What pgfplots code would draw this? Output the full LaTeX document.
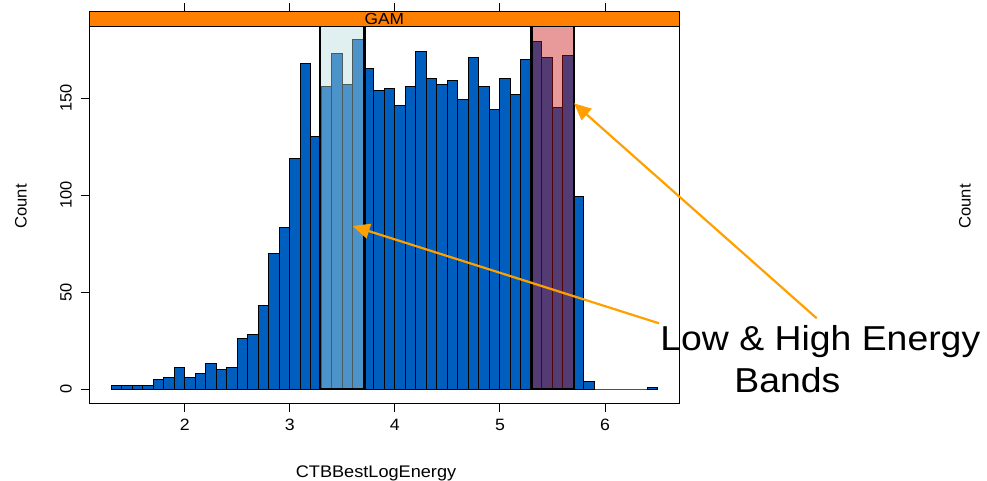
\documentclass[border=0pt]{standalone}
\usepackage{fontspec}
\setmainfont{Liberation Sans}[FakeStretch=1.08]
\newfontfamily\rotfont{Liberation Sans}
\usepackage{pgfplots}
\pgfplotsset{compat=1.18}
\usetikzlibrary{arrows.meta}
\definecolor{barblue}{RGB}{0,95,190}
\definecolor{stripor}{RGB}{255,128,0}
\definecolor{arrowor}{RGB}{255,160,0}
\definecolor{lowband}{RGB}{182,219,219}
\definecolor{highband}{RGB}{200,12,12}
\begin{document}
\begin{tikzpicture}
\useasboundingbox (0,0) rectangle (493.5pt,-240.5pt);
\begin{axis}[
  at={(44.65pt,-201.65pt)}, anchor=south west,
  scale only axis, width=295pt, height=188.5pt,
  xmin=1.092, xmax=6.707, ymin=-7.37, ymax=186.96,
  xtick={2,3,4,5,6}, ytick={0,50,100,150},
  xtick pos=lower, ytick pos=left,
  tick align=outside, major tick length=4.3pt,
  tick style={black, line width=0.5pt},
  axis line style={black, line width=0.5pt},
  /pgf/number format/assume math mode=true,
  xticklabel style={font=\fontsize{8.2}{9}\selectfont, inner sep=0pt},
  xticklabel shift=3.3pt,
  yticklabel style={rotate=90, anchor=south, inner sep=0pt, font=\rotfont\fontsize{8.2}{9}\selectfont},
  yticklabel shift=4.2pt,
  xlabel={CTBBestLogEnergy},
  xlabel style={at={(axis description cs:0.486,0)}, anchor=north, inner sep=0pt, yshift=-30.85pt, font=\fontsize{8.4}{10}\selectfont},
  ylabel={Count},
  ylabel style={at={(axis description cs:-0.1158,0.522)}, anchor=center, inner sep=0pt, font=\rotfont\fontsize{8.3}{10}\selectfont},
  clip=false,
]
\addplot[ybar interval, fill=barblue, draw=black, line width=0.5pt] table[row sep=\\] {
x y\\
1.3 2\\ 1.4 2\\ 1.5 2\\ 1.6 2\\ 1.7 5\\ 1.8 6\\ 1.9 11\\ 2.0 6\\ 2.1 8\\ 2.2 13\\
2.3 10\\ 2.4 11\\ 2.5 26\\ 2.6 28\\ 2.7 43\\ 2.8 70\\ 2.9 83\\ 3.0 119\\ 3.1 168\\ 3.2 130\\
3.3 156\\ 3.4 173\\ 3.5 157\\ 3.6 180\\ 3.7 165\\ 3.8 154\\ 3.9 155\\ 4.0 146\\ 4.1 156\\ 4.2 174\\
4.3 160\\ 4.4 157\\ 4.5 159\\ 4.6 149\\ 4.7 171\\ 4.8 156\\ 4.9 144\\ 5.0 160\\ 5.1 152\\ 5.2 170\\
5.3 179\\ 5.4 171\\ 5.5 145\\ 5.6 172\\ 5.7 99\\ 5.8 4\\ 5.9 0\\ 6.0 0\\ 6.1 0\\ 6.2 0\\
6.3 0\\ 6.4 1\\ 6.5 1\\
};
% energy bands
\fill[lowband, fill opacity=0.42] (axis cs:3.289,0) rectangle (axis cs:3.711,187.3);
\draw[black, line width=1.2pt] (axis cs:3.289,0) rectangle (axis cs:3.711,187.3);
\fill[highband, fill opacity=0.42] (axis cs:5.3,0) rectangle (axis cs:5.705,187.3);
\draw[black, line width=1.2pt] (axis cs:5.3,0) rectangle (axis cs:5.705,187.3);
% strip
\draw[fill=stripor, line width=0.5pt] (axis description cs:0,1) rectangle ([yshift=7.65pt]axis description cs:1,1);
\node[font=\fontsize{8}{9}\selectfont, inner sep=0pt] at ([yshift=3.85pt]axis description cs:0.5,1) {GAM};
\pgfplotsinvokeforeach{2,3,4,5,6}{
  \draw[black, line width=0.5pt] ([yshift=7.65pt]axis cs:#1,186.96) -- ([yshift=11.8pt]axis cs:#1,186.96);
}
\node[rotate=90, inner sep=0pt, font=\rotfont\fontsize{8.3}{10}\selectfont] at (axis description cs:1.484,0.522) {Count};
\end{axis}
\begin{scope}[x=0.5pt,y=-0.5pt]
\draw[arrowor, line width=1.1pt, -{Triangle[length=8.5pt,width=7.5pt]}] (659,323.3) -- (352.7,226);
\draw[arrowor, line width=1.1pt, -{Triangle[length=8.5pt,width=7.5pt]}] (816.7,318.3) -- (574,103.3);
\node[anchor=base west, inner sep=0pt, font=\fontsize{17.3}{20}\selectfont] at (660,350.7) {Low \& High Energy};
\node[anchor=base west, inner sep=0pt, font=\fontsize{17.3}{20}\selectfont] at (734,393) {Bands};
\end{scope}
\end{tikzpicture}
\end{document}
